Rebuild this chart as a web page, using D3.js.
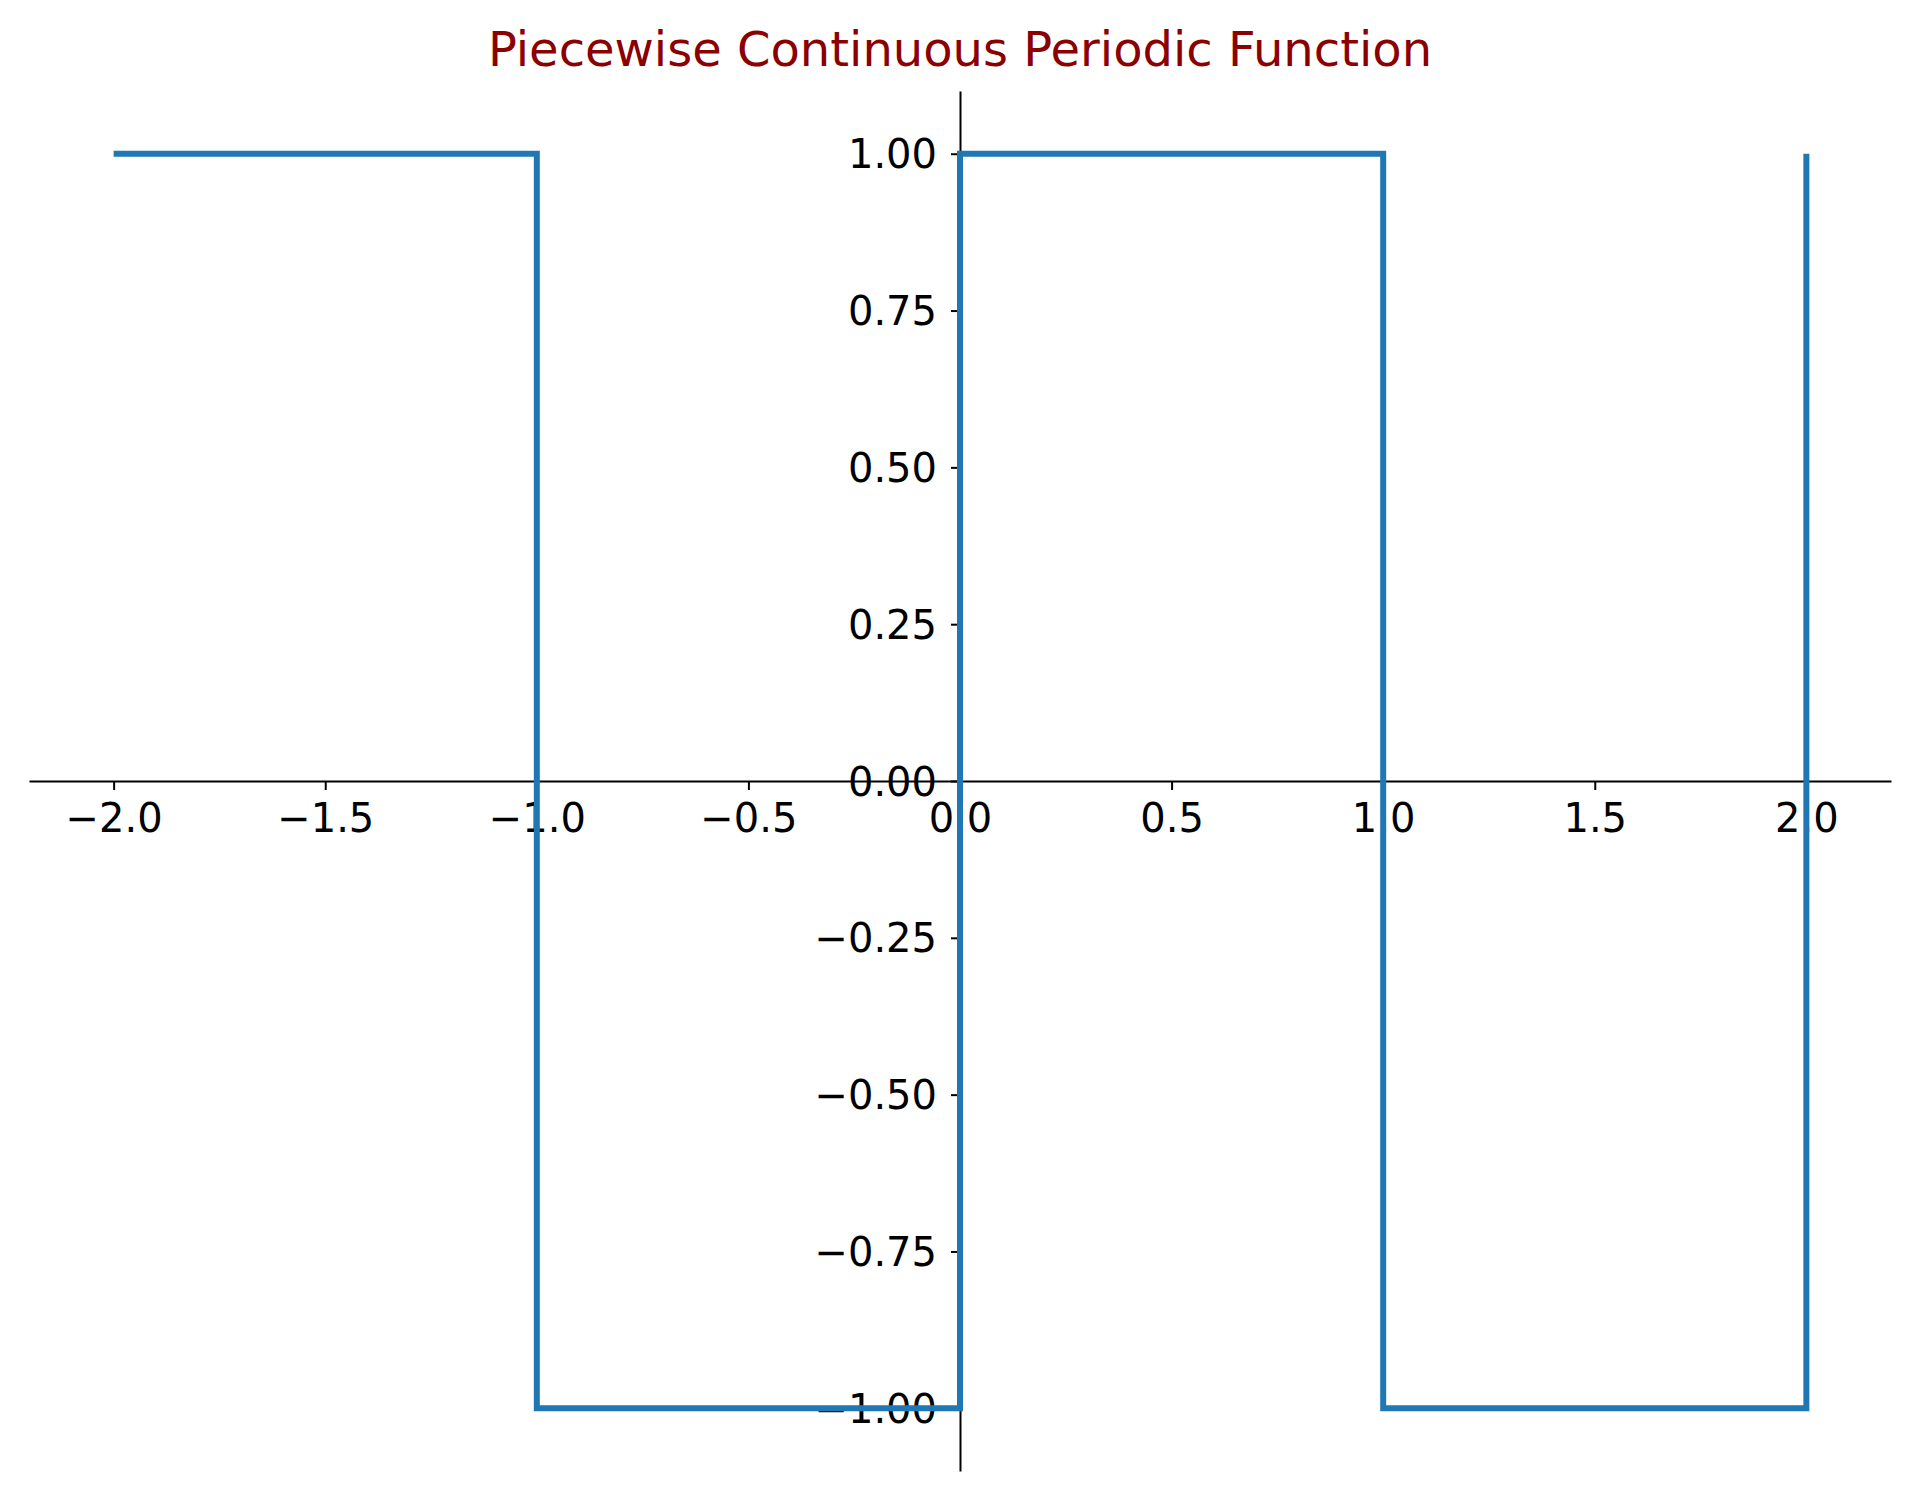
<!DOCTYPE html>
<html><head><meta charset="utf-8">
<script src="https://cdn.jsdelivr.net/npm/d3@7"></script>
<style>body{margin:0;background:#fff}text{font-family:"DejaVu Sans",sans-serif}</style>
</head><body><svg id="c" width="1919" height="1509"></svg>
<script>
const xs=[-2,-1,-1,0,0,1,1,2,2];
const ys=[1,1,-1,-1,1,1,-1,-1,1];
const xTicks=[-2,-1.5,-1,-0.5,0,0.5,1,1.5,2];
const yTicks=[-1,-0.75,-0.5,-0.25,0,0.25,0.5,0.75,1];
const svg=d3.select("#c");
const x=d3.scaleLinear().domain([-2.2,2.2]).range([29,1891]);
const y=d3.scaleLinear().domain([-1.1,1.1]).range([1471,91]);
const fmt=v=>(v<0?"\u2212":"")+Math.abs(v).toFixed(2);
const fmtx=v=>(v<0?"\u2212":"")+Math.abs(v).toFixed(1);
svg.append("text").attr("x",960).attr("y",66).attr("text-anchor","middle").attr("font-size",48).attr("fill","#8b0000").text("Piecewise Continuous Periodic Function");
const xa=svg.append("g").attr("transform",`translate(0,${y(0)})`).call(d3.axisBottom(x).tickValues(xTicks).tickFormat(fmtx).tickSize(9).tickPadding(14).tickSizeOuter(0));
const ya=svg.append("g").attr("transform",`translate(${x(0)},0)`).call(d3.axisLeft(y).tickValues(yTicks).tickFormat(fmt).tickSize(9).tickPadding(14).tickSizeOuter(0));
[xa,ya].forEach(a=>{a.selectAll("text").attr("font-size",40).attr("font-family","DejaVu Sans").attr("fill","#000");a.selectAll("line,path").attr("stroke","#000").attr("stroke-width",2);});
ya.selectAll("text").attr("dy","0.35em");
const line=d3.line().x((d,i)=>x(xs[i])).y(d=>y(d));
svg.append("path").datum(ys).attr("d",line).attr("fill","none").attr("stroke","#1f77b4").attr("stroke-width",6);
</script></body></html>
